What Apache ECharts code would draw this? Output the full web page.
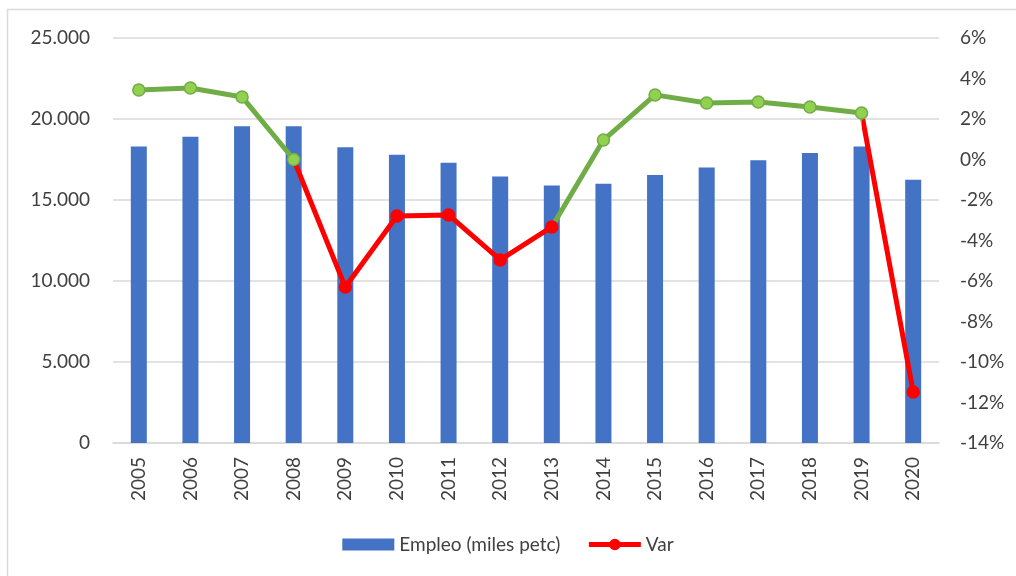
<!DOCTYPE html>
<html>
<head>
<meta charset="utf-8">
<script src="https://cdn.jsdelivr.net/npm/echarts@6/dist/echarts.min.js"></script>
<style>
  html, body { margin: 0; padding: 0; background: #fff; }
  #chart { width: 1016px; height: 576px; }
</style>
</head>
<body>
<div id="chart"></div>
<script>
const years = ["2005", "2006", "2007", "2008", "2009", "2010", "2011", "2012",
  "2013", "2014", "2015", "2016", "2017", "2018", "2019", "2020"];
const empleo = [18300, 18900, 19550, 19550, 18250, 17800, 17300, 16450,
  15900, 16000, 16550, 17000, 17450, 17900, 18300, 16250];
const variacion = [3.43, 3.53, 3.09, 0.0, -6.3, -2.79, -2.74, -4.96,
  -3.33, 0.96, 3.19, 2.79, 2.84, 2.59, 2.3, -11.48];

const GREEN = "#70AD47";
const GREEN_FILL = "#92D050";
const RED = "#FF0000";

// tramos en rojo: 2009-2013 y 2020
function isRed(i) {
  return (i > 3 && i <= 8) || i > 14;
}

const chart = echarts.init(document.getElementById("chart"));
const font = "Lato, 'Open Sans', sans-serif";

const option = {
  animation: false,
  textStyle: { fontFamily: font, color: "#404040" },
  graphic: [
    {
      type: "rect",
      shape: { x: 7.5, y: 9.5, width: 1030, height: 600 },
      style: { fill: "none", stroke: "#d9d9d9", lineWidth: 1.5 },
      silent: true,
    },
  ],
  legend: {
    bottom: 17,
    left: "center",
    itemGap: 26,
    itemWidth: 52,
    itemHeight: 12,
    textStyle: { fontSize: 19, color: "#404040", fontFamily: font },
    data: [
      { name: "Empleo (miles petc)", icon: "rect" },
      {
        name: "Var",
        itemStyle: { color: RED, borderColor: RED },
        lineStyle: { color: RED, width: 5 },
      },
    ],
  },
  grid: {
    left: 113,
    right: 77,
    top: 38,
    bottom: 133,
    containLabel: false,
  },
  xAxis: {
    type: "category",
    data: years,
    axisTick: { show: false },
    axisLine: { lineStyle: { color: "#d9d9d9", width: 1.5 } },
    axisLabel: {
      rotate: 90,
      fontSize: 19,
      color: "#404040",
      margin: 14,
      interval: 0,
    },
  },
  yAxis: [
    {
      type: "value",
      min: 0,
      max: 25000,
      interval: 5000,
      axisLine: { show: false },
      axisTick: { show: false },
      splitLine: { lineStyle: { color: "#d9d9d9", width: 1.5 } },
      axisLabel: {
        fontSize: 19,
        color: "#404040",
        margin: 23,
        formatter: (v) => v.toLocaleString("de-DE"),
      },
    },
    {
      type: "value",
      min: -14,
      max: 6,
      interval: 2,
      axisLine: { show: false },
      axisTick: { show: false },
      splitLine: { show: false },
      axisLabel: {
        fontSize: 19,
        color: "#404040",
        margin: 21,
        formatter: (v) => v + "%",
      },
    },
  ],
  visualMap: {
    show: false,
    seriesIndex: 1,
    dimension: 0,
    pieces: [
      { lte: 3, color: GREEN },
      { gt: 3, lte: 8, color: RED },
      { gt: 8, lte: 14, color: GREEN },
      { gt: 14, color: RED },
    ],
  },
  series: [
    {
      name: "Empleo (miles petc)",
      type: "bar",
      data: empleo,
      barWidth: "31%",
      itemStyle: { color: "#4472C4" },
    },
    {
      name: "Var",
      type: "line",
      yAxisIndex: 1,
      symbol: "circle",
      symbolSize: 12,
      lineStyle: { width: 5 },
      itemStyle: { borderWidth: 1.5 },
      data: variacion.map((v, i) => ({
        value: v,
        itemStyle: isRed(i)
          ? { color: RED, borderColor: RED }
          : { color: GREEN_FILL, borderColor: GREEN },
      })),
      z: 5,
    },
  ],
};

chart.setOption(option);
</script>
</body>
</html>
